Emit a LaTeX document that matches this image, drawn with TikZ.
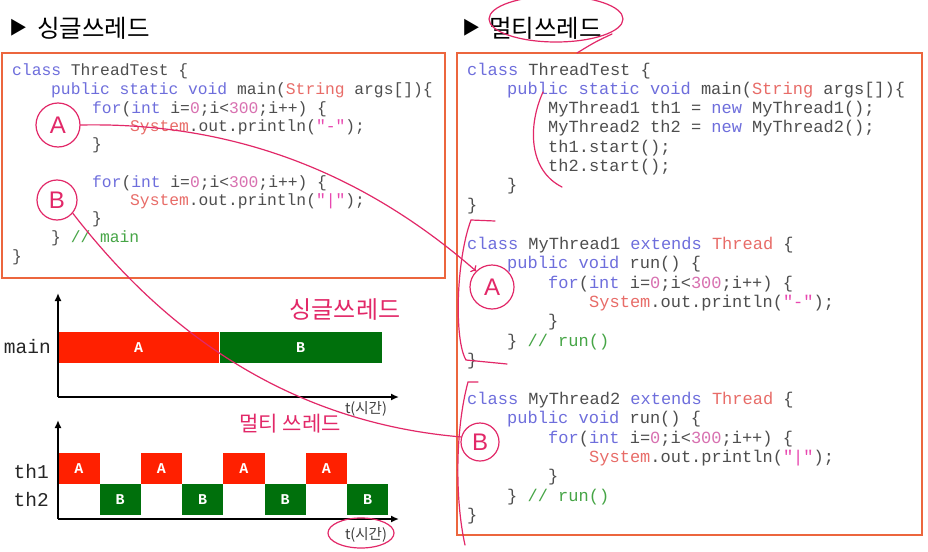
\documentclass[tikz,border=0pt]{standalone}
\usepackage{fontspec}
\setmainfont{Liberation Sans}
\setmonofont{Liberation Mono}
\newfontfamily\krfont{Noto Sans CJK KR}
\usetikzlibrary{positioning,arrows.meta,calc}
\definecolor{boxorange}{RGB}{236,102,62}
\definecolor{kwblue}{RGB}{110,110,220}
\definecolor{typered}{RGB}{232,108,104}
\definecolor{numpink}{RGB}{216,112,176}
\definecolor{strpink}{RGB}{232,72,176}
\definecolor{cmtgreen}{RGB}{70,165,70}
\definecolor{codegray}{RGB}{78,78,78}
\definecolor{barred}{RGB}{255,32,0}
\definecolor{bargreen}{RGB}{0,112,12}
\definecolor{pinkink}{RGB}{226,40,104}
\newcommand{\jkw}[1]{\textcolor{kwblue}{#1}}
\newcommand{\jty}[1]{\textcolor{typered}{#1}}
\newcommand{\jnum}[1]{\textcolor{numpink}{#1}}
\newcommand{\jstr}[1]{\textcolor{strpink}{#1}}
\newcommand{\jcm}[1]{\textcolor{cmtgreen}{#1}}
\begin{document}
\begin{tikzpicture}[x=1pt,y=-1pt,
    code/.style={anchor=base west, inner sep=0pt, text=codegray, font=\ttfamily\fontsize{16.3}{18}\selectfont},
    rcode/.style={code, font=\ttfamily\fontsize{17}{19}\selectfont},
    codebox/.style={draw=boxorange, line width=1.6pt},
    title/.style={anchor=west, inner sep=0pt, font=\krfont\fontsize{24.5}{25}\selectfont},
    tri/.style={anchor=west, inner sep=0pt, font=\krfont\fontsize{18}{18}\selectfont},
    bar/.style={anchor=north west, inner sep=0pt, minimum height=31pt, text=white, font=\ttfamily\bfseries\fontsize{15}{15}\selectfont},
    abar/.style={bar, fill=barred, minimum width=41.3pt},
    bbar/.style={bar, fill=bargreen, minimum width=41.3pt},
    lbl/.style={anchor=east, inner sep=0pt, font=\ttfamily\fontsize{19.5}{20}\selectfont, text=black!85},
    tlbl/.style={inner sep=0pt, font=\krfont\fontsize{14.5}{15}\selectfont, text=black!75},
    axis/.style={line width=1.6pt, -{Latex[length=8pt,width=7pt]}},
    hand/.style={draw=pinkink, line width=1.2pt, line cap=round},
    circ/.style={circle, hand, inner sep=0pt, text=pinkink, font=\fontsize{24}{24}\selectfont},
    scrawl/.style={inner sep=0pt, text=pinkink, font=\krfont\fontsize{24}{24}\selectfont}]
  \useasboundingbox[fill=white] (0,0) rectangle (928,551);

  % titles
  \node[tri] (tri1) at (9,28) {▶};
  \node[title] (single) at (37,28) {싱글쓰레드};
  \node[tri] (tri2) at (462,28) {▶};
  \node[title] (multi) at (489,28) {멀티쓰레드};

  % code boxes
  \draw[codebox] (2,53) rectangle (445,278);
  \draw[codebox] (457,53) rectangle (922,535);

  % single thread code
  \node[code] (l1) at (12,75) {\jkw{class} ThreadTest \{};
  \node[code] (l2) at (51,94) {\jkw{public static void} main(\jty{String} args[])\{};
  \node[code] (l3) at (92,113) {\jkw{for}(\jkw{int} i=\jnum{0};i<\jnum{300};i++) \{};
  \node[code] (l4) at (130,131) {\jty{System}.out.println(\jstr{"-"});};
  \node[code] (l5) at (92,149) {\}};
  \node[code] (l6) at (92,187) {\jkw{for}(\jkw{int} i=\jnum{0};i<\jnum{300};i++) \{};
  \node[code] (l7) at (130,205) {\jty{System}.out.println(\jstr{"|"});};
  \node[code] (l8) at (92,223) {\}};
  \node[code] (l9) at (51,242) {\} \jcm{// main}};
  \node[code] (l10) at (12,261) {\}};

  % multi thread code
  \node[rcode] (r1) at (467,75) {\jkw{class} ThreadTest \{};
  \node[rcode] (r2) at (507,94) {\jkw{public static void} main(\jty{String} args[])\{};
  \node[rcode] (r3) at (548,113) {MyThread1 th1 = \jkw{new} MyThread1();};
  \node[rcode] (r4) at (548,132) {MyThread2 th2 = \jkw{new} MyThread2();};
  \node[rcode] (r5) at (548,152) {th1.start();};
  \node[rcode] (r6) at (548,171) {th2.start();};
  \node[rcode] (r7) at (507,190) {\}};
  \node[rcode] (r8) at (467,210) {\}};
  \node[rcode] (r9) at (467,249) {\jkw{class} MyThread1 \jkw{extends} \jty{Thread} \{};
  \node[rcode] (r10) at (507,268) {\jkw{public void} run() \{};
  \node[rcode] (r11) at (548,288) {\jkw{for}(\jkw{int} i=\jnum{0};i<\jnum{300};i++) \{};
  \node[rcode] (r12) at (589,307) {\jty{System}.out.println(\jstr{"-"});};
  \node[rcode] (r13) at (548,326) {\}};
  \node[rcode] (r14) at (507,346) {\} \jcm{// run()}};
  \node[rcode] (r15) at (467,365) {\}};
  \node[rcode] (r16) at (467,404) {\jkw{class} MyThread2 \jkw{extends} \jty{Thread} \{};
  \node[rcode] (r17) at (507,423) {\jkw{public void} run() \{};
  \node[rcode] (r18) at (548,443) {\jkw{for}(\jkw{int} i=\jnum{0};i<\jnum{300};i++) \{};
  \node[rcode] (r19) at (589,462) {\jty{System}.out.println(\jstr{"|"});};
  \node[rcode] (r20) at (548,481) {\}};
  \node[rcode] (r21) at (507,501) {\} \jcm{// run()}};
  \node[rcode] (r22) at (467,520) {\}};

  % single thread chart
  \coordinate (o1) at (58,397);
  \coordinate (y1) at (58,293);
  \coordinate (x1) at (399,397);
  \node[bar, fill=barred, minimum width=161pt] (mainA) at (58,332) {A};
  \node[bar, fill=bargreen, minimum width=162pt, right=0pt of mainA] (mainB) {B};
  \draw[axis] (o1) -- (y1);
  \draw[axis] (o1) -- (x1);
  \node[lbl] (lmain) at (51,347) {main};
  \node[tlbl] (t1) at (366,409) {t(시간)};

  % multi thread chart
  \coordinate (o2) at (58,519);
  \coordinate (y2) at (58,420);
  \coordinate (x2) at (399,519);
  \foreach \i in {0,1,2,3} {
    \node[abar] (a\i) at ({58+82.5*\i},453) {A};
    \node[bbar] (b\i) at ({99.3+82.5*\i},484) {B};
  }
  \draw[axis] (o2) -- (y2);
  \draw[axis] (o2) -- (x2);
  \node[lbl] (lth1) at (49,472) {th1};
  \node[lbl] (lth2) at (49,500) {th2};
  \node[tlbl] (t2) at (366,535) {t(시간)};

  % handwritten notes
  \node[circ, minimum size=44pt] (cA) at (58,125) {A};
  \node[circ, minimum size=40pt] (cB) at (57,200) {B};
  \node[circ, minimum size=44pt] (rA) at (492,287) {A};
  \node[circ, minimum size=38pt] (rB) at (480,442) {B};
  \node[scrawl] (hsingle) at (345,310) {싱글쓰레드};
  \node[scrawl, font=\krfont\fontsize{21}{21}\selectfont] (hmulti) at (290,424) {멀티 쓰레드};
  \draw[hand, ->] (cA.east) .. controls (230,122) and (360,170) .. (rA.north west);
  \draw[hand] (cB.-40) .. controls (140,300) and (260,420) .. (rB.165);
  \draw[hand] (495,221) -- (471,220) .. controls (456,260) and (454,340) .. (466,360) -- (507,364);
  \draw[hand] (478,382) -- (468,382) .. controls (455,430) and (455,500) .. (465,545);
  \draw[hand] (556,19) ellipse [x radius=67, y radius=23];
  \draw[hand] (612,34) .. controls (595,42) .. (577,53);
  \draw[hand] (543,92) .. controls (528,125) and (528,170) .. (562,187);
  \draw[hand] (361,533) ellipse [x radius=33, y radius=15];
\end{tikzpicture}
\end{document}
